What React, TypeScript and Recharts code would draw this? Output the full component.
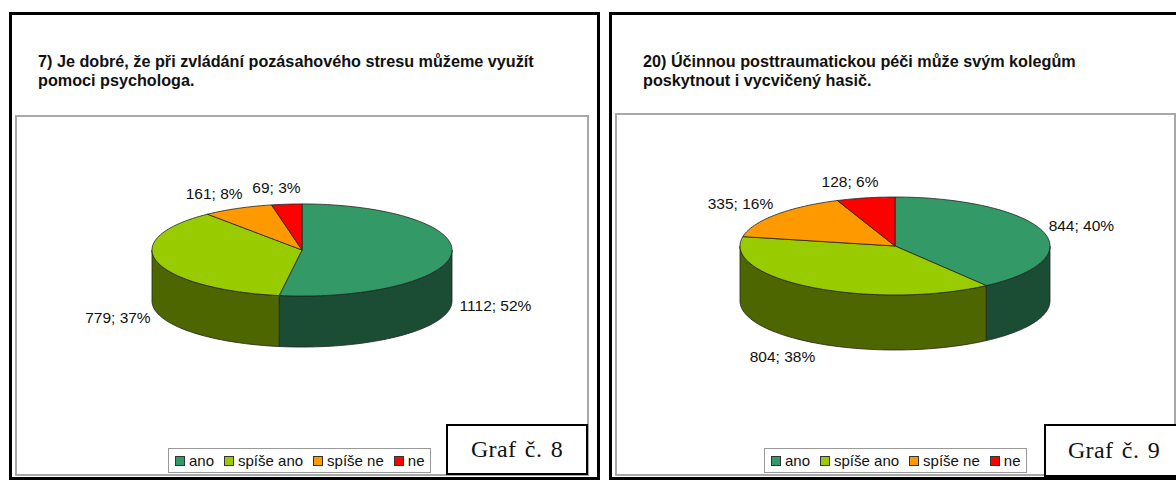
import React from 'react';
import { PieChart, Pie, Cell, Legend } from 'recharts';

// answer categories shared by both charts
const categories = ['ano', 'spíše ano', 'spíše ne', 'ne'];

// Graf č. 8
const graf8Title = [
  '7) Je dobré, že při zvládání pozásahového stresu můžeme využít',
  'pomoci psychologa.',
];
const graf8Values = [1112, 779, 161, 69];

// Graf č. 9
const graf9Title = [
  '20) Účinnou posttraumatickou péči může svým kolegům',
  'poskytnout i vycvičený hasič.',
];
const graf9Values = [844, 804, 335, 128];

const topColors: Record<string, string> = {
  ano: '#339966',
  'spíše ano': '#99cc00',
  'spíše ne': '#ff9900',
  ne: '#ff0000',
};
const sideColors: Record<string, string> = {
  ano: '#1b4c34',
  'spíše ano': '#4d6600',
  'spíše ne': '#804c00',
  ne: '#800000',
};

const SANS = '"Liberation Sans", Arial, sans-serif';
const OUTLINE = '#222';

// 3D slice: the polar sector recharts computes is squashed into an ellipse
// and given a side wall on the front half
const makeSlice = (tilt: number, depth: number) => (props: any) => {
  const { cx, cy, outerRadius, startAngle, endAngle } = props;
  const name = props.payload?.name ?? props.name;
  const rx = outerRadius;
  const ry = outerRadius * tilt;
  const pt = (deg: number, dy: number) => {
    const r = (deg * Math.PI) / 180;
    return `${(cx + rx * Math.cos(r)).toFixed(2)},${(cy - ry * Math.sin(r) + dy).toFixed(2)}`;
  };
  const arc = (a: number, b: number, dy: number) => {
    const n = Math.max(2, Math.ceil(Math.abs(b - a) / 2));
    const out: string[] = [];
    for (let i = 0; i <= n; i++) out.push(pt(a + ((b - a) * i) / n, dy));
    return out;
  };

  const top = `M${cx},${cy} L${arc(startAngle, endAngle, 0).join(' L')} Z`;
  const lo = Math.min(startAngle, endAngle);
  const hi = Math.max(startAngle, endAngle);
  const sides: string[] = [];
  for (let k = -2; k <= 1; k++) {
    const a = Math.max(lo, -180 + 360 * k);
    const b = Math.min(hi, 360 * k);
    if (b - a > 0.01) {
      sides.push(`M${arc(a, b, 0).join(' L')} L${arc(b, a, depth).join(' L')} Z`);
    }
  }

  return (
    <g>
      {sides.map((d, i) => (
        <path key={i} d={d} fill={sideColors[name]} stroke={OUTLINE} strokeWidth={0.8} strokeLinejoin="round" />
      ))}
      <path d={top} fill={topColors[name]} stroke={OUTLINE} strokeWidth={0.8} strokeLinejoin="round" />
    </g>
  );
};

const makeLabel = (tilt: number, depth: number) => (props: any) => {
  const { cx, cy, outerRadius, midAngle, value, percent } = props;
  const rx = outerRadius;
  const ry = outerRadius * tilt;
  const r = (midAngle * Math.PI) / 180;
  const c = Math.cos(r);
  const s = Math.sin(r);
  const text = `${value}; ${Math.round(percent * 100)}%`;
  const w = text.length * 8;
  const x = cx + rx * c + Math.sign(c) * Math.sqrt(Math.abs(c)) * (8 + w / 2);
  const y = cy - ry * s + (s < 0 ? depth : 0) - 17 * s;
  return (
    <text x={x} y={y} textAnchor="middle" dominantBaseline="central" fill="#111" fontFamily={SANS} fontSize={15.5}>
      {text}
    </text>
  );
};

// legend keeps the order of the categories (recharts sorts by name otherwise)
const LegendBox = ({ payload }: any) => {
  const items = [...(payload || [])].sort(
    (a: any, b: any) => categories.indexOf(a.value) - categories.indexOf(b.value)
  );
  return (
    <div
      style={{
        display: 'flex',
        alignItems: 'center',
        border: '1px solid #999',
        background: '#fff',
        padding: '3px 6px',
        fontFamily: SANS,
        fontSize: 15,
        color: '#111',
        whiteSpace: 'nowrap',
        lineHeight: '17px',
      }}
    >
      {items.map((p: any, i: number) => (
        <span key={i} style={{ display: 'inline-flex', alignItems: 'center', marginRight: i < items.length - 1 ? 10 : 0 }}>
          <span
            style={{
              display: 'inline-block',
              width: 10,
              height: 10,
              boxSizing: 'border-box',
              background: p.color,
              border: '1px solid #333',
              marginRight: 4,
            }}
          />
          {p.value}
        </span>
      ))}
    </div>
  );
};

interface PanelProps {
  frame: { left: number; width: number };
  title: string[];
  titleLeft: number;
  box: { left: number; top: number; width: number; height: number };
  pie: { cx: number; cy: number; r: number; tilt: number; depth: number };
  legendPos: { left: number; top: number };
  values: number[];
  graf: { left: number; top: number; width: number; height: number; text: string };
}

const Panel = ({ frame, title, titleLeft, box, pie, legendPos, values, graf }: PanelProps) => {
  const data = categories.map((name, i) => ({ name, value: values[i] }));
  return (
    <>
      <div
        style={{
          position: 'absolute',
          left: frame.left,
          top: 12,
          width: frame.width,
          height: 468,
          border: '3px solid #000',
          boxSizing: 'border-box',
        }}
      />
      <div
        style={{
          position: 'absolute',
          left: titleLeft,
          top: 52,
          fontFamily: SANS,
          fontWeight: 'bold',
          fontSize: 16.2,
          lineHeight: '19px',
          color: '#111',
          whiteSpace: 'nowrap',
        }}
      >
        {title.map((t, i) => (
          <div key={i}>{t}</div>
        ))}
      </div>
      <div
        style={{
          position: 'absolute',
          left: box.left,
          top: box.top,
          width: box.width,
          height: box.height,
          border: '2px solid #a8a8a8',
          boxSizing: 'border-box',
        }}
      >
        <PieChart width={box.width - 4} height={box.height - 4} margin={{ top: 0, right: 0, bottom: 0, left: 0 }}>
          <Pie
            data={data}
            dataKey="value"
            nameKey="name"
            cx={pie.cx}
            cy={pie.cy}
            outerRadius={pie.r}
            startAngle={90}
            endAngle={-270}
            shape={makeSlice(pie.tilt, pie.depth)}
            label={makeLabel(pie.tilt, pie.depth)}
            labelLine={false}
            isAnimationActive={false}
          >
            {data.map((d) => (
              <Cell key={d.name} fill={topColors[d.name]} />
            ))}
          </Pie>
          <Legend
            content={<LegendBox />}
            wrapperStyle={{ left: legendPos.left, top: legendPos.top, bottom: 'auto', width: 'auto' }}
          />
        </PieChart>
      </div>
      <div
        style={{
          position: 'absolute',
          left: graf.left,
          top: graf.top,
          width: graf.width,
          height: graf.height,
          border: '2px solid #000',
          boxSizing: 'border-box',
          background: '#fff',
          display: 'flex',
          alignItems: 'center',
          justifyContent: 'center',
          fontFamily: '"Liberation Serif", "Times New Roman", serif',
          fontSize: 24,
          letterSpacing: 0.4,
          wordSpacing: 2,
          color: '#111',
        }}
      >
        {graf.text}
      </div>
    </>
  );
};

export default function App() {
  return (
    <div style={{ position: 'absolute', left: 0, top: 0, width: 1176, height: 480, background: '#fff', overflow: 'hidden' }}>
      <Panel
        frame={{ left: 9, width: 591 }}
        title={graf8Title}
        titleLeft={38}
        box={{ left: 15, top: 115, width: 574, height: 361 }}
        pie={{ cx: 285, cy: 133, r: 150, tilt: 0.307, depth: 51 }}
        legendPos={{ left: 151, top: 331 }}
        values={graf8Values}
        graf={{ left: 446, top: 424, width: 142, height: 51, text: 'Graf č. 8' }}
      />
      <Panel
        frame={{ left: 609, width: 575 }}
        title={graf9Title}
        titleLeft={643}
        box={{ left: 615, top: 113, width: 561, height: 363 }}
        pie={{ cx: 278, cy: 131, r: 155, tilt: 0.316, depth: 55 }}
        legendPos={{ left: 147, top: 333 }}
        values={graf9Values}
        graf={{ left: 1044, top: 424, width: 140, height: 53, text: 'Graf č. 9' }}
      />
    </div>
  );
}
